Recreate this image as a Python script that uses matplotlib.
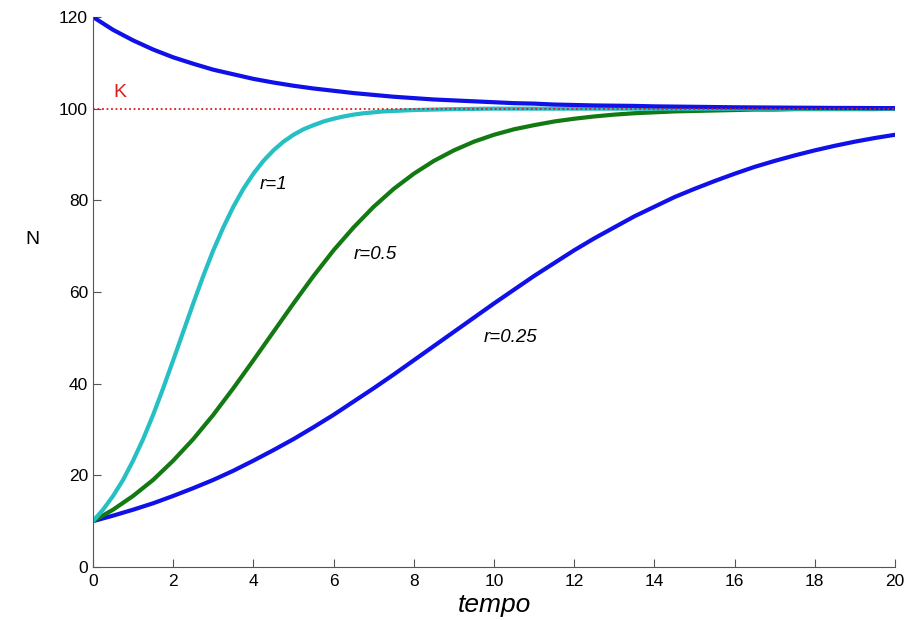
import matplotlib
matplotlib.use("Agg")
import matplotlib.pyplot as plt

# time axis (half-unit steps)
tempo = [i * 0.5 for i in range(41)]
# finer steps for the steep r=1 curve
tempo_r1 = [i * 0.25 for i in range(33)] + list(range(9, 21))

# population curves, K = 100
n_r1 = [10.0, 12.5, 15.5, 19.0, 23.2, 27.9, 33.2, 39.0, 45.1, 51.3,
        57.5, 63.5, 69.1, 74.1, 78.6, 82.5, 85.8, 88.6, 90.9, 92.8,
        94.3, 95.5, 96.4, 97.2, 97.8, 98.3, 98.7, 99.0, 99.2, 99.4,
        99.5, 99.6, 99.7,
        99.9, 100.0, 100.0, 100.0, 100.0, 100.0, 100.0, 100.0, 100.0, 100.0,
        100.0, 100.0]
n_r05 = [10.0, 12.5, 15.5, 19.0, 23.2, 27.9, 33.2, 39.0, 45.1, 51.3,
         57.5, 63.5, 69.1, 74.1, 78.6, 82.5, 85.8, 88.6, 90.9, 92.8,
         94.3, 95.5, 96.4, 97.2, 97.8, 98.3, 98.7, 99.0, 99.2, 99.4,
         99.5, 99.6, 99.7, 99.8, 99.8, 99.9, 99.9, 99.9, 99.9, 99.9,
         100.0]
n_r025 = [10.0, 11.2, 12.5, 13.9, 15.5, 17.2, 19.0, 21.0, 23.2, 25.5,
          27.9, 30.5, 33.2, 36.1, 39.0, 42.0, 45.1, 48.2, 51.3, 54.4,
          57.5, 60.5, 63.5, 66.3, 69.1, 71.7, 74.1, 76.5, 78.6, 80.7,
          82.5, 84.2, 85.8, 87.3, 88.6, 89.8, 90.9, 91.9, 92.8, 93.6,
          94.3]
n_top = [120.0, 117.2, 114.9, 112.9, 111.2, 109.8, 108.5, 107.5, 106.5, 105.7,
         105.0, 104.4, 103.9, 103.4, 103.0, 102.6, 102.3, 102.0, 101.8, 101.6,
         101.4, 101.2, 101.1, 100.9, 100.8, 100.7, 100.65, 100.6, 100.5, 100.45,
         100.4, 100.35, 100.3, 100.27, 100.24, 100.21, 100.19, 100.16, 100.15, 100.13,
         100.11]
K = 100

plt.rcParams['font.family'] = ['Liberation Sans', 'DejaVu Sans']

fig = plt.figure(figsize=(9.17, 6.2), dpi=100)
ax = fig.add_axes([0.1014, 0.0855, 0.8746, 0.8871])

blue = '#1010e8'
ax.plot(tempo, n_r025, color=blue, lw=3, solid_capstyle='round', solid_joinstyle='round')
ax.plot(tempo, n_r05, color='#137a13', lw=3, solid_capstyle='round', solid_joinstyle='round')
ax.plot(tempo_r1, n_r1, color='#25bfc4', lw=3, solid_capstyle='round', solid_joinstyle='round')
ax.plot(tempo, n_top, color=blue, lw=3, solid_capstyle='round', solid_joinstyle='round')
ax.plot([0, 20], [K, K], color='#d62020', lw=1.3, ls=(0, (1, 1.5)))

ax.text(0.5, 102.5, 'K', color='#d62020', fontsize=14)
ax.text(4.15, 83.5, 'r=1', fontsize=13.5, style='italic', va='center')
ax.text(6.5, 68.2, 'r=0.5', fontsize=13.5, style='italic', va='center')
ax.text(9.75, 50.0, 'r=0.25', fontsize=13.5, style='italic', va='center')

ax.set_xlim(0, 20)
ax.set_ylim(0, 120)
ax.set_xticks(range(0, 21, 2))
ax.set_yticks(range(0, 121, 20))
ax.tick_params(direction='in', labelsize=12.5, length=6, color='#555555')
ax.tick_params(axis='x', pad=5)
for s in ['top', 'right']:
    ax.spines[s].set_visible(False)
for s in ['left', 'bottom']:
    ax.spines[s].set_color('#555555')

ax.set_xlabel('tempo', fontsize=19, style='italic', labelpad=3)
ax.set_ylabel('N', fontsize=14, rotation=0)
ax.yaxis.set_label_coords(-0.075, 0.58)

fig.savefig('out.png', dpi=100)
